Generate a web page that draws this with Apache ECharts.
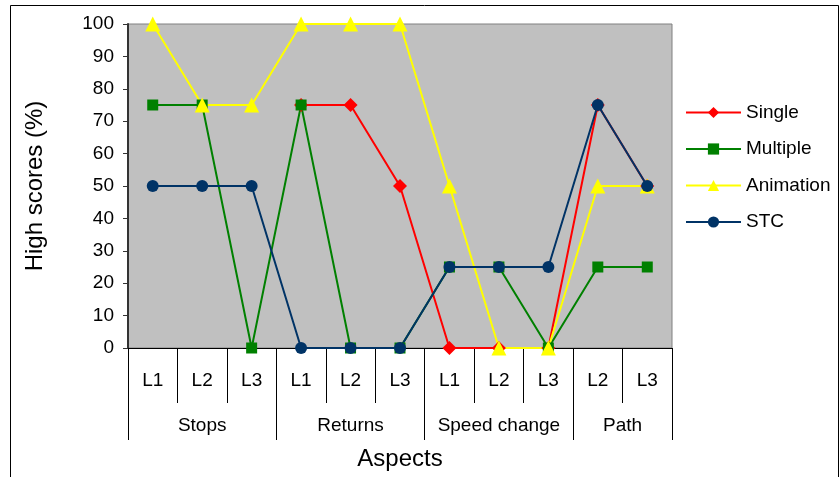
<!DOCTYPE html>
<html><head><meta charset="utf-8">
<script src="https://cdn.jsdelivr.net/npm/echarts@6/dist/echarts.min.js"></script>
<style>html,body{margin:0;padding:0;background:#fff}#c{width:840px;height:477px}</style>
</head><body><div id="c"></div>
<script>
var levels = ['L1','L2','L3','L1','L2','L3','L1','L2','L3','L2','L3'];
var groups = ['Stops','Returns','Speed change','Path'];
var groupBounds = [0,3,6,9,11];
var groupCenters = [1.5,4.5,7.5,10];
var single = [null,null,null,75,75,50,0,0,0,75,50];
var multiple = [75,75,0,75,0,0,25,25,0,25,25];
var animation = [100,75,75,100,100,100,50,0,0,50,50];
var stc = [50,50,50,0,0,0,25,25,25,75,50];
var yTicks = {min:0,max:100,interval:10};

var FONT = 'Liberation Sans, Arial, sans-serif';
var chart = echarts.init(document.getElementById('c'), null, {renderer:'canvas'});
function ser(name, data, color, symbol, size){
  return {name:name,type:'line',data:data,xAxisIndex:0,yAxisIndex:0,
    symbol:symbol,symbolSize:size,showAllSymbol:true,connectNulls:false,
    lineStyle:{color:color,width:2},itemStyle:{color:color,borderWidth:0},
    emphasis:{disabled:true},animation:false};
}
chart.setOption({
  animation:false,
  textStyle:{fontFamily:FONT},
  graphic:[{type:'rect',shape:{x:10.5,y:5.5,width:828,height:475},style:{fill:'none',stroke:'#000',lineWidth:1},silent:true}],
  grid:{left:128,top:24,right:168,bottom:129,show:true,backgroundColor:'#c0c0c0',borderColor:'#808080',borderWidth:1},
  legend:{orient:'vertical',left:685,top:103,padding:0,itemWidth:55,itemHeight:14,itemGap:17.5,
    textStyle:{fontFamily:FONT,fontSize:19,color:'#000'},
    data:['Single','Multiple','Animation','STC']},
  xAxis:[{
    type:'category',data:levels,boundaryGap:true,position:'bottom',
    axisLine:{show:true,lineStyle:{color:'#000',width:1}},
    axisTick:{show:true,length:55,interval:0,lineStyle:{color:'#000'}},
    axisLabel:{interval:0,margin:23,fontSize:19,color:'#000',fontFamily:FONT},
    splitLine:{show:false}
  },{
    type:'value',min:0,max:11,position:'bottom',
    name:'Aspects',nameLocation:'middle',nameGap:99,
    nameTextStyle:{fontSize:24,color:'#000',fontFamily:FONT},
    axisLine:{show:false},
    axisTick:{show:true,length:92,customValues:groupBounds,lineStyle:{color:'#000'}},
    axisLabel:{margin:68,fontSize:19,color:'#000',fontFamily:FONT,customValues:groupCenters,
      formatter:function(v){var i=groupCenters.indexOf(v);return i>=0?groups[i]:'';}},
    splitLine:{show:false}
  }],
  yAxis:{type:'value',min:yTicks.min,max:yTicks.max,interval:yTicks.interval,
    name:'High scores (%)',nameLocation:'middle',nameGap:81,
    nameTextStyle:{fontSize:24,color:'#000',fontFamily:FONT},
    axisLine:{show:true,lineStyle:{color:'#333',width:2}},
    axisTick:{show:true,length:5,lineStyle:{color:'#333'}},
    axisLabel:{margin:14,fontSize:19,color:'#000',fontFamily:FONT},
    splitLine:{show:false}},
  series:[
    ser('Single',single,'#ff0000','diamond',14),
    ser('Multiple',multiple,'#008000','rect',11),
    ser('Animation',animation,'#ffff00','triangle',15),
    ser('STC',stc,'#003366','circle',12)
  ]
});
</script></body></html>
